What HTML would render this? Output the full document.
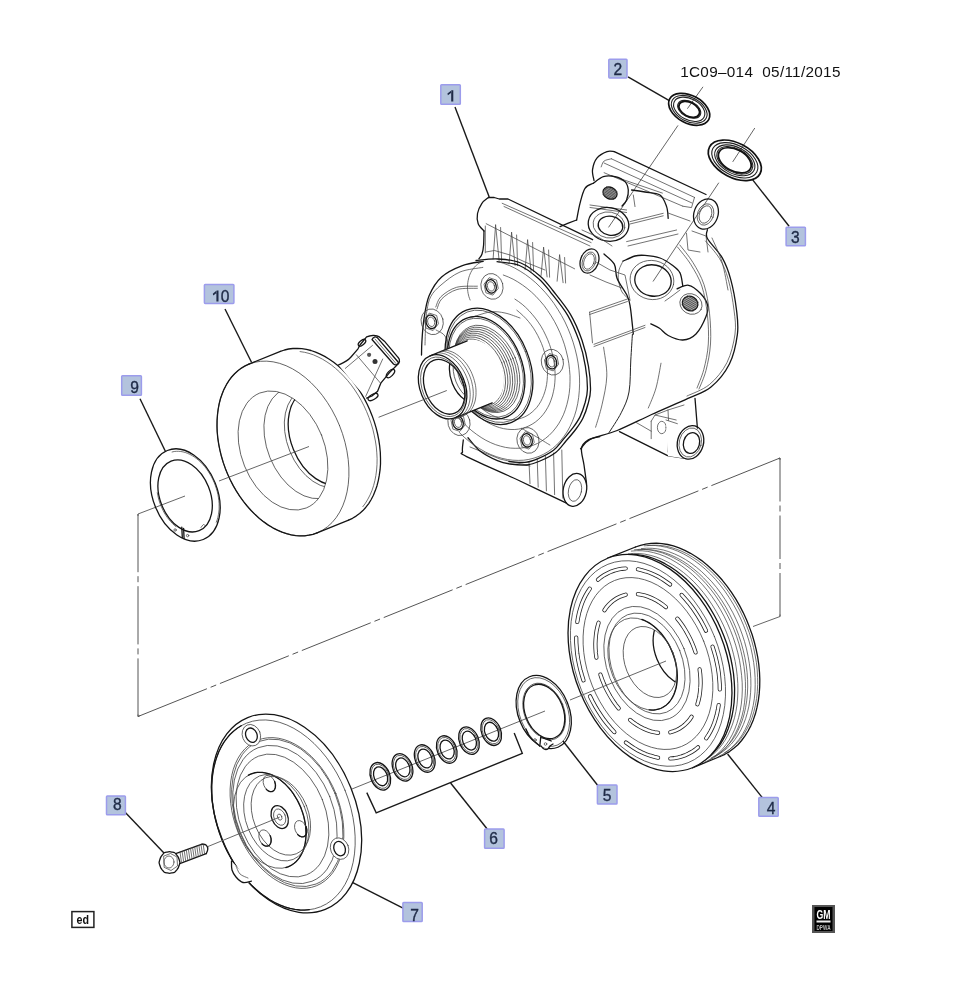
<!DOCTYPE html>
<html><head><meta charset="utf-8"><style>
html,body{margin:0;padding:0;background:#fff;}
svg{display:block;filter:blur(0.45px);}
.k{fill:none;stroke:#151515;stroke-width:1.3;stroke-linejoin:round;stroke-linecap:round;}
.t{fill:none;stroke:#444;stroke-width:0.75;stroke-linejoin:round;stroke-linecap:round;}
.m{fill:none;stroke:#222;stroke-width:1.0;stroke-linecap:round;}
.a{fill:none;stroke:#555;stroke-width:0.9;}
.d{fill:none;stroke:#555;stroke-width:1;}
.l{fill:none;stroke:#1a1a1a;stroke-width:1.4;}
.lb{fill:#b3c3dd;stroke:#9c9cec;stroke-width:1.5;}
.lt{font-family:"Liberation Sans",sans-serif;font-size:15.6px;fill:#1f2b47;stroke:#1f2b47;stroke-width:0.35;text-anchor:middle;}
.w{fill:#fff;stroke:none;}
.wk{fill:none;stroke:#111;stroke-width:1.7;}
.wt{fill:none;stroke:#222;stroke-width:1.1;}
.so{fill:none;stroke:#222;stroke-width:4.2;stroke-linecap:round;}
.si{fill:none;stroke:#fff;stroke-width:2.6;stroke-linecap:round;}
</style></head><body>
<svg width="961" height="1000" viewBox="0 0 961 1000">
<rect width="961" height="1000" fill="#fff"/>
<defs><clipPath id="cb"><ellipse cx="283" cy="450.5" rx="41.5" ry="62" transform="rotate(-22 283 450.5)"/></clipPath><clipPath id="ph"><ellipse cx="650" cy="662" rx="24.8" ry="37" transform="rotate(-22 650 662)"/></clipPath><clipPath id="sb"><ellipse cx="444.1" cy="386.8" rx="19.1" ry="28.5" transform="rotate(-22 444.1 386.8)"/></clipPath></defs>
<line x1="138" y1="514" x2="138" y2="716.5" class="d" stroke-dasharray="58.2 4 6 4"/>
<line x1="138" y1="716.5" x2="780" y2="458" class="d" stroke-dasharray="74.3 4 6 4"/>
<line x1="780" y1="458" x2="780" y2="616.5" class="d" stroke-dasharray="43.5 4 6 4"/>
<line x1="780" y1="616.5" x2="753" y2="626.5" class="a"/>
<path d="M138 514 L138 516 M138 714.5 L138 716.5 L140 715.7 M778 458.8 L780 458 L780 460 M780 614.5 L780 616.5" class="a"/>
<line x1="138" y1="514" x2="185" y2="496" class="a"/>
<line x1="352" y1="789" x2="545" y2="711" class="a"/>
<line x1="687.4" y1="108.7" x2="703" y2="86.8" class="a"/>
<line x1="608.5" y1="227.4" x2="678" y2="125.4" class="a"/>
<line x1="732.7" y1="161.9" x2="754.8" y2="128" class="a"/>
<line x1="653" y1="281.5" x2="718.8" y2="182.7" class="a"/>
<line x1="455" y1="106.9" x2="489.2" y2="197" class="l"/>
<line x1="628" y1="76.8" x2="669.3" y2="100.6" class="l"/>
<line x1="752.5" y1="179.6" x2="789.1" y2="226.2" class="l"/>
<line x1="727.6" y1="754" x2="764.5" y2="800.4" class="l"/>
<line x1="563" y1="741" x2="598" y2="785.8" class="l"/>
<line x1="450.6" y1="783" x2="487.2" y2="829" class="l"/>
<line x1="352.3" y1="882.3" x2="405.5" y2="909.3" class="l"/>
<line x1="125.6" y1="812.8" x2="164.2" y2="853.3" class="l"/>
<line x1="140" y1="398.7" x2="165.6" y2="451.8" class="l"/>
<line x1="225" y1="309" x2="251.6" y2="362.5" class="l"/>
<path d="M366.8 792.6 L376.2 812.9 L522.3 753.3 L514.2 733" class="l"/>
<ellipse cx="689.2" cy="109.3" rx="22.1" ry="13.8" transform="rotate(28 689.2 109.3)" class="wk"/>
<ellipse cx="689.2" cy="109.3" rx="19.2" ry="12" transform="rotate(28 689.2 109.3)" class="wt"/>
<ellipse cx="689.2" cy="109.3" rx="16.8" ry="10.5" transform="rotate(28 689.2 109.3)" class="wt"/>
<ellipse cx="689.2" cy="109.3" rx="12.4" ry="7.7" transform="rotate(28 689.2 109.3)" class="wt"/>
<ellipse cx="689.2" cy="109.3" rx="11.1" ry="6.9" transform="rotate(28 689.2 109.3)" class="wk"/>
<ellipse cx="734.8" cy="160.3" rx="28.6" ry="17.2" transform="rotate(28 734.8 160.3)" class="wk"/>
<ellipse cx="734.8" cy="160.3" rx="24.9" ry="15" transform="rotate(28 734.8 160.3)" class="wt"/>
<ellipse cx="734.8" cy="160.3" rx="21.7" ry="13.1" transform="rotate(28 734.8 160.3)" class="wt"/>
<ellipse cx="734.8" cy="160.3" rx="19.4" ry="11.7" transform="rotate(28 734.8 160.3)" class="wt"/>
<ellipse cx="734.8" cy="160.3" rx="17.7" ry="10.7" transform="rotate(28 734.8 160.3)" class="wk"/>
<ellipse cx="185.3" cy="495" rx="32.2" ry="48" transform="rotate(-22 185.3 495)" class="k"/>
<path d="M172.1 452 L174.2 451.5 L176.4 451.3 L178.6 451.3 L180.8 451.5 L183 451.9 L185.3 452.5 L187.6 453.4 L189.9 454.4 L192.1 455.6 L194.3 457 L196.5 458.6 L198.7 460.4 L200.8 462.3 L202.8 464.4 L204.7 466.6 L206.6 469 L208.3 471.5 L209.9 474.1 L211.5 476.8 L212.9 479.6 L214.2 482.5 L215.3 485.4 L216.3 488.4 L217.2 491.4 L217.9 494.4 L218.4 497.4 L218.8 500.4 L219.1 503.4 L219.1 506.3 L219.1 509.2 L218.8 512 L218.4 514.7 L217.9 517.3 L217.2 519.8 L216.3 522.2" class="t"/>
<ellipse cx="185.1" cy="495.9" rx="25.1" ry="37.5" transform="rotate(-22 185.1 495.9)" class="k"/>
<path d="M175.9 526.6 L174.1 525.1 L172.3 523.4 L170.6 521.5 L168.9 519.5 L167.3 517.5 L165.8 515.3 L164.4 513 L163.1 510.6 L162 508.2 L160.9 505.7 L159.9 503.1 L159.1 500.6 L158.4 498 L157.8 495.3 L157.3 492.7" class="t"/>
<line x1="181.8" y1="527.2" x2="182.3" y2="537.6" class="k"/>
<line x1="183.6" y1="528.4" x2="184.1" y2="538.8" class="k"/>
<circle cx="175.1" cy="530" r="1.2" class="t"/>
<circle cx="187.6" cy="535.6" r="1.2" class="t"/>
<path d="M201 527.5 C201.4 527 202.8 524.8 203.5 524.5 C204.2 524.2 205.2 525.8 205.5 526" class="t"/>
<path d="M248.9 364.1 L280.4 351.4 L348.6 520.1 L317.1 532.9 Z" class="w"/>
<ellipse cx="314.5" cy="435.8" rx="61" ry="91" transform="rotate(-22 314.5 435.8)" class="w"/>
<ellipse cx="283" cy="448.5" rx="61" ry="91" transform="rotate(-22 283 448.5)" class="w"/>
<ellipse cx="283" cy="448.5" rx="61" ry="91" transform="rotate(-22 283 448.5)" class="t"/>
<path d="M280.4 351.4 L284.5 350 L288.6 349 L292.9 348.5 L297.3 348.4 L301.8 348.7 L306.4 349.4 L311 350.5 L315.6 352.1 L320.2 354.1 L324.7 356.4 L329.3 359.2 L333.7 362.3 L338.1 365.8 L342.3 369.6 L346.4 373.8 L350.4 378.2 L354.2 383 L357.8 388 L361.1 393.2 L364.3 398.6 L367.2 404.2 L369.8 410 L372.2 415.9 L374.3 421.9 L376.1 427.9 L377.6 434 L378.8 440.1 L379.7 446.2 L380.3 452.2 L380.5 458.2 L380.5 464 L380.1 469.7 L379.3 475.2 L378.3 480.6 L377 485.7 L375.3 490.6 L373.4 495.2 L371.2 499.5 L368.7 503.6 L365.9 507.2 L362.9 510.6 L359.6 513.5 L356.1 516.1 L352.5 518.3 L348.6 520.1" class="k"/>
<path d="M317.1 532.9 L313.1 534.3 L308.9 535.2 L304.6 535.8 L300.2 535.9 L295.7 535.6 L291.1 534.9 L286.6 533.7 L282 532.2 L277.4 530.2 L272.8 527.8 L268.3 525.1 L263.8 521.9 L259.4 518.4 L255.2 514.6 L251.1 510.5 L247.1 506 L243.4 501.3 L239.8 496.3 L236.4 491.1 L233.2 485.6 L230.3 480 L227.7 474.3 L225.3 468.4 L223.2 462.4 L221.4 456.3 L219.9 450.2 L218.7 444.1 L217.8 438.1 L217.2 432 L217 426.1 L217.1 420.3 L217.5 414.6 L218.2 409 L219.2 403.7 L220.5 398.5 L222.2 393.7 L224.1 389.1 L226.4 384.7 L228.9 380.7 L231.6 377 L234.6 373.7 L237.9 370.7 L241.4 368.1 L245.1 365.9 L248.9 364.1" class="k"/>
<line x1="248.9" y1="364.1" x2="280.4" y2="351.4" class="k"/>
<line x1="317.1" y1="532.9" x2="348.6" y2="520.1" class="k"/>
<path d="M300.1 351.6 L304.6 352.3 L309 353.4 L313.5 354.9 L318 356.9 L322.5 359.2 L326.9 361.9 L331.3 364.9 L335.6 368.4 L339.7 372.1 L343.7 376.2 L347.6 380.5 L351.3 385.1 L354.8 390 L358.1 395.1 L361.2 400.4 L364 405.9 L366.6 411.6 L368.9 417.3 L371 423.2 L372.8 429.1 L374.2 435.1 L375.4 441 L376.3 447 L376.8 452.9 L377.1 458.7 L377 464.4 L376.6 470 L375.9 475.4 L374.9 480.6 L373.6 485.6 L372 490.4 L370.1 494.9 L367.9 499.1 L365.5 503.1 L362.8 506.7" class="t"/>
<ellipse cx="283" cy="450.5" rx="41.5" ry="62" transform="rotate(-22 283 450.5)" class="t"/>
<g clip-path="url(#cb)">
<ellipse cx="306" cy="443" rx="38.9" ry="58" transform="rotate(-22 306 443)" class="t"/>
<ellipse cx="322" cy="438" rx="34.8" ry="52" transform="rotate(-22 322 438)" class="t"/>
<ellipse cx="324.5" cy="437" rx="33.5" ry="50" transform="rotate(-22 324.5 437)" class="k"/>
</g>
<path d="M338.5 365 C343 363 347 361.6 351 357 L358 348.8 L360 345 L366.6 336.9 C370 335.5 376 334.5 379.3 336.9 L384.4 341.2 L398 357.3 C400.5 360 400 363.5 396.3 365.8 L389.5 372.6 L381 382.8 L377.6 391.3 L372 396 L366.6 398.1 L355 385 Z" class="w"/>
<path d="M338.5 365 C343 363 347 361.6 351 357 L358 348.8 L360 345 L366.6 336.9 C370 335.5 376 334.5 379.3 336.9 L384.4 341.2 L398 357.3 C400.5 360 400 363.5 396.3 365.8 L389.5 372.6 L381 382.8 L377.6 391.3 L372 396 L366.6 398.1" class="k"/>
<path d="M372 339.5 L393.5 364 Q396.5 366.5 398.5 362.5 L377.5 337.8 Q374 335.5 372 339.5" class="k"/>
<line x1="375" y1="339" x2="396" y2="363.5" class="t"/>
<ellipse cx="390.5" cy="373.5" rx="2.6" ry="5.2" transform="rotate(45 390.5 373.5)" class="k"/>
<ellipse cx="373" cy="397" rx="2.6" ry="5.5" transform="rotate(60 373 397)" class="k"/>
<ellipse cx="362" cy="342.8" rx="2.2" ry="4.5" transform="rotate(50 362 342.8)" class="k"/>
<line x1="345.3" y1="368.4" x2="372.5" y2="345.4" class="t"/>
<line x1="356.4" y1="354.8" x2="380.2" y2="382.8" class="t"/>
<line x1="382.7" y1="359" x2="365.7" y2="396.4" class="t"/>
<circle cx="369.1" cy="354.8" r="2.1" style="fill:#555"/>
<circle cx="375" cy="361.6" r="2.5" style="fill:#333"/>
<path d="M607.7 558.2 L635.5 547 L720.1 756.5 L692.3 767.8 Z" class="w"/>
<ellipse cx="677.8" cy="651.8" rx="75.7" ry="113" transform="rotate(-22 677.8 651.8)" class="w"/>
<path d="M635.5 547 L640.5 545.3 L645.7 544.1 L651 543.4 L656.5 543.2 L662 543.6 L667.7 544.5 L673.4 545.9 L679.1 547.9 L684.8 550.3 L690.5 553.3 L696.1 556.7 L701.7 560.6 L707.1 564.9 L712.3 569.7 L717.4 574.8 L722.4 580.3 L727 586.2 L731.5 592.4 L735.7 598.9 L739.6 605.6 L743.2 612.6 L746.5 619.8 L749.4 627.1 L752.1 634.5 L754.3 642 L756.2 649.6 L757.7 657.2 L758.8 664.7 L759.5 672.2 L759.8 679.6 L759.7 686.8 L759.2 693.9 L758.3 700.8 L757 707.4 L755.4 713.8 L753.3 719.9 L750.9 725.6 L748.1 731 L745 735.9 L741.6 740.5 L737.9 744.7 L733.8 748.3 L729.5 751.6 L724.9 754.3 L720.1 756.5" class="k"/>
<path d="M647.7 545.6 L653.1 545.2 L658.6 545.3 L664.1 545.9 L669.8 547.1 L675.4 548.8 L681.1 551 L686.8 553.7 L692.4 556.9 L697.9 560.5 L703.4 564.6 L708.6 569.2 L713.8 574.1 L718.7 579.5 L723.5 585.1 L728 591.2 L732.3 597.5 L736.3 604.1 L740 610.9 L743.4 618 L746.4 625.2 L749.2 632.5 L751.5 639.9 L753.5 647.4 L755.1 655 L756.4 662.5 L757.2 669.9 L757.6 677.3 L757.7 684.5 L757.3 691.6 L756.6 698.5 L755.4 705.2 L753.9 711.6 L752 717.7 L749.7 723.5 L747 728.9 L744 734 L740.7 738.6 L737.1 742.9 L733.1 746.7 L728.9 750 L724.5 752.8" class="t"/>
<line x1="607.7" y1="558.2" x2="635.5" y2="547" class="k"/>
<line x1="692.3" y1="767.8" x2="720.1" y2="756.5" class="k"/>
<path d="M628.4 553.8 L633.8 553.4 L639.2 553.5 L644.7 554.1 L650.3 555.3 L655.9 556.9 L661.5 559.1 L667.1 561.8 L672.7 564.9 L678.1 568.5 L683.5 572.5 L688.8 577 L693.9 581.8 L698.8 587.1 L703.5 592.7 L708 598.6 L712.2 604.9 L716.2 611.4 L719.9 618.1 L723.3 625 L726.4 632.1 L729.1 639.4 L731.5 646.7 L733.5 654.2 L735.2 661.6 L736.4 669 L737.3 676.4 L737.8 683.7 L737.9 690.9 L737.6 698 L737 704.8 L735.9 711.5 L734.5 717.8 L732.6 724 L730.4 729.7 L727.9 735.2 L725 740.3 L721.8 745 L718.3 749.3 L714.4 753.1 L710.3 756.5 L706 759.4 L701.4 761.9" class="t"/>
<path d="M631.3 551.1 L636.7 550.7 L642.2 550.8 L647.8 551.4 L653.4 552.6 L659.1 554.2 L664.8 556.4 L670.5 559.1 L676.1 562.3 L681.7 565.9 L687.1 570 L692.4 574.5 L697.6 579.5 L702.6 584.8 L707.4 590.5 L711.9 596.5 L716.2 602.8 L720.3 609.4 L724 616.2 L727.4 623.2 L730.5 630.5 L733.3 637.8 L735.7 645.2 L737.8 652.8 L739.5 660.3 L740.7 667.8 L741.6 675.3 L742.2 682.7 L742.3 690 L742 697.2 L741.3 704.1 L740.2 710.8 L738.7 717.3 L736.9 723.5 L734.7 729.4 L732.1 734.9 L729.2 740.1 L725.9 744.8 L722.3 749.2 L718.5 753.1 L714.3 756.5 L709.9 759.5 L705.2 762" class="t"/>
<path d="M634.5 549.8 L639.9 549.3 L645.4 549.5 L651 550.1 L656.7 551.3 L662.4 552.9 L668 555.1 L673.7 557.8 L679.4 561 L684.9 564.6 L690.4 568.7 L695.7 573.2 L700.8 578.2 L705.8 583.5 L710.6 589.2 L715.2 595.2 L719.5 601.5 L723.5 608.1 L727.2 614.9 L730.7 621.9 L733.8 629.1 L736.6 636.5 L739 643.9 L741 651.4 L742.7 659 L744 666.5 L744.9 674 L745.4 681.4 L745.5 688.7 L745.2 695.8 L744.5 702.8 L743.5 709.5 L742 716 L740.1 722.2 L737.9 728.1 L735.3 733.6 L732.4 738.8 L729.2 743.5 L725.6 747.9 L721.7 751.8 L717.5 755.2 L713.1 758.2 L708.5 760.6" class="t"/>
<path d="M638.2 549.9 L643.5 549.5 L648.9 549.6 L654.4 550.2 L660 551.4 L665.6 553 L671.2 555.2 L676.8 557.8 L682.4 560.9 L687.9 564.5 L693.2 568.6 L698.5 573 L703.6 577.9 L708.5 583.2 L713.2 588.8 L717.7 594.7 L722 600.9 L726 607.4 L729.6 614.2 L733 621.1 L736.1 628.2 L738.8 635.5 L741.2 642.8 L743.2 650.2 L744.9 657.7 L746.2 665.1 L747.1 672.5 L747.6 679.8 L747.7 687 L747.4 694 L746.7 700.9 L745.6 707.5 L744.2 713.9 L742.4 720 L740.2 725.8 L737.6 731.3 L734.8 736.4 L731.5 741.1 L728 745.3 L724.2 749.2 L720.1 752.6 L715.7 755.5 L711.1 758" class="t"/>
<path d="M641.4 548.6 L646.7 548.2 L652.2 548.3 L657.7 548.9 L663.3 550 L668.9 551.7 L674.5 553.9 L680.1 556.5 L685.6 559.6 L691.1 563.2 L696.5 567.3 L701.7 571.7 L706.8 576.6 L711.8 581.8 L716.5 587.4 L721 593.4 L725.2 599.6 L729.2 606.1 L732.9 612.8 L736.3 619.8 L739.4 626.9 L742.1 634.1 L744.5 641.5 L746.5 648.9 L748.1 656.3 L749.4 663.8 L750.3 671.2 L750.8 678.5 L750.9 685.7 L750.6 692.7 L749.9 699.6 L748.9 706.2 L747.4 712.6 L745.6 718.7 L743.4 724.5 L740.9 730 L738 735 L734.8 739.7 L731.3 744 L727.4 747.9 L723.3 751.3 L719 754.2 L714.4 756.6" class="t"/>
<path d="M644.3 545.8 L649.7 545.4 L655.2 545.5 L660.7 546.2 L666.4 547.3 L672.1 549 L677.8 551.2 L683.5 553.9 L689.1 557 L694.6 560.7 L700.1 564.8 L705.4 569.3 L710.6 574.2 L715.6 579.5 L720.3 585.2 L724.9 591.2 L729.2 597.6 L733.2 604.1 L737 611 L740.4 618 L743.5 625.2 L746.3 632.6 L748.7 640 L750.8 647.5 L752.4 655.1 L753.7 662.6 L754.6 670.1 L755.1 677.5 L755.2 684.8 L755 691.9 L754.3 698.9 L753.2 705.6 L751.7 712.1 L749.9 718.3 L747.7 724.1 L745.1 729.7 L742.2 734.8 L738.9 739.6 L735.3 743.9 L731.4 747.8 L727.3 751.3 L722.9 754.2 L718.2 756.7" class="t"/>
<path d="M631.3 554.4 L636.8 554.6 L642.4 555.4 L648 556.7 L653.7 558.5 L659.4 560.8 L665 563.7 L670.6 567 L676.1 570.7 L681.5 574.9 L686.8 579.6 L691.9 584.6 L696.8 590 L701.5 595.8 L706 601.9 L710.2 608.3 L714.1 615 L717.7 621.8 L721 628.9 L724 636.2 L726.7 643.5 L728.9 651 L730.8 658.5 L732.3 666 L733.5 673.5 L734.2 681 L734.6 688.3 L734.5 695.5 L734.1 702.5 L733.2 709.4 L732 716 L730.3 722.3 L728.3 728.4 L726 734.1 L723.2 739.4 L720.2 744.4 L716.8 748.9 L713 753.1 L709 756.7 L704.8 759.9 L700.2 762.7 L695.5 764.9" class="k"/>
<ellipse cx="650" cy="663" rx="75.7" ry="113" transform="rotate(-22 650 663)" class="w"/>
<ellipse cx="650" cy="663" rx="75.7" ry="113" transform="rotate(-22 650 663)" class="k"/>
<ellipse cx="648" cy="663.5" rx="71.7" ry="107" transform="rotate(-22 648 663.5)" class="t"/>
<ellipse cx="648" cy="663.5" rx="60" ry="89.5" transform="rotate(-22 648 663.5)" class="t"/>
<ellipse cx="647" cy="663.5" rx="39.9" ry="59.5" transform="rotate(-22 647 663.5)" class="t"/>
<ellipse cx="647" cy="663.5" rx="35.2" ry="52.5" transform="rotate(-22 647 663.5)" class="t"/>
<path d="M712.5 646.7 L714.2 652.1 L715.7 657.5 L716.9 662.8 L718 668.2 L718.8 673.6 L719.3 679 L719.7 684.2 L719.8 689.5" class="so"/>
<path d="M712.5 646.7 L714.2 652.1 L715.7 657.5 L716.9 662.8 L718 668.2 L718.8 673.6 L719.3 679 L719.7 684.2 L719.8 689.5" class="si"/>
<path d="M718.7 705 L717.9 709.8 L716.9 714.4 L715.6 718.9 L714.2 723.2 L712.5 727.3 L710.6 731.2 L708.5 734.8 L706.2 738.3" class="so"/>
<path d="M718.7 705 L717.9 709.8 L716.9 714.4 L715.6 718.9 L714.2 723.2 L712.5 727.3 L710.6 731.2 L708.5 734.8 L706.2 738.3" class="si"/>
<path d="M698 747.3 L695 749.8 L691.8 751.9 L688.5 753.7 L685.1 755.3 L681.5 756.6 L677.9 757.5 L674.1 758.2 L670.3 758.5" class="so"/>
<path d="M698 747.3 L695 749.8 L691.8 751.9 L688.5 753.7 L685.1 755.3 L681.5 756.6 L677.9 757.5 L674.1 758.2 L670.3 758.5" class="si"/>
<path d="M658.1 757.7 L654.1 756.8 L650 755.6 L645.9 754.1 L641.9 752.4 L637.8 750.3 L633.8 748 L629.8 745.3 L625.9 742.5" class="so"/>
<path d="M658.1 757.7 L654.1 756.8 L650 755.6 L645.9 754.1 L641.9 752.4 L637.8 750.3 L633.8 748 L629.8 745.3 L625.9 742.5" class="si"/>
<path d="M614.4 732.1 L610.8 728.2 L607.4 724.2 L604.1 719.9 L601 715.5 L598 710.9 L595.1 706.1 L592.5 701.3 L590 696.3" class="so"/>
<path d="M614.4 732.1 L610.8 728.2 L607.4 724.2 L604.1 719.9 L601 715.5 L598 710.9 L595.1 706.1 L592.5 701.3 L590 696.3" class="si"/>
<path d="M583.5 680.3 L581.8 674.9 L580.3 669.5 L579.1 664.2 L578 658.8 L577.2 653.4 L576.7 648 L576.3 642.8 L576.2 637.5" class="so"/>
<path d="M583.5 680.3 L581.8 674.9 L580.3 669.5 L579.1 664.2 L578 658.8 L577.2 653.4 L576.7 648 L576.3 642.8 L576.2 637.5" class="si"/>
<path d="M577.3 622 L578.1 617.2 L579.1 612.6 L580.4 608.1 L581.8 603.8 L583.5 599.7 L585.4 595.8 L587.5 592.2 L589.8 588.7" class="so"/>
<path d="M577.3 622 L578.1 617.2 L579.1 612.6 L580.4 608.1 L581.8 603.8 L583.5 599.7 L585.4 595.8 L587.5 592.2 L589.8 588.7" class="si"/>
<path d="M598 579.7 L601 577.2 L604.2 575.1 L607.5 573.3 L610.9 571.7 L614.5 570.4 L618.1 569.5 L621.9 568.8 L625.7 568.5" class="so"/>
<path d="M598 579.7 L601 577.2 L604.2 575.1 L607.5 573.3 L610.9 571.7 L614.5 570.4 L618.1 569.5 L621.9 568.8 L625.7 568.5" class="si"/>
<path d="M637.9 569.3 L641.9 570.2 L646 571.4 L650.1 572.9 L654.1 574.6 L658.2 576.7 L662.2 579 L666.2 581.7 L670.1 584.5" class="so"/>
<path d="M637.9 569.3 L641.9 570.2 L646 571.4 L650.1 572.9 L654.1 574.6 L658.2 576.7 L662.2 579 L666.2 581.7 L670.1 584.5" class="si"/>
<path d="M681.6 594.9 L685.2 598.8 L688.6 602.8 L691.9 607.1 L695 611.5 L698 616.1 L700.9 620.9 L703.5 625.7 L706 630.7" class="so"/>
<path d="M681.6 594.9 L685.2 598.8 L688.6 602.8 L691.9 607.1 L695 611.5 L698 616.1 L700.9 620.9 L703.5 625.7 L706 630.7" class="si"/>
<path d="M699.6 669.4 L700.2 674.1 L700.5 678.7 L700.6 683.3 L700.4 687.7 L700 692.1 L699.4 696.3 L698.5 700.4 L697.4 704.3" class="so"/>
<path d="M699.6 669.4 L700.2 674.1 L700.5 678.7 L700.6 683.3 L700.4 687.7 L700 692.1 L699.4 696.3 L698.5 700.4 L697.4 704.3" class="si"/>
<path d="M691.6 716.7 L689.6 719.6 L687.3 722.3 L684.8 724.7 L682.2 726.8 L679.4 728.6 L676.5 730.1 L673.5 731.3 L670.3 732.3" class="so"/>
<path d="M691.6 716.7 L689.6 719.6 L687.3 722.3 L684.8 724.7 L682.2 726.8 L679.4 728.6 L676.5 730.1 L673.5 731.3 L670.3 732.3" class="si"/>
<path d="M658.1 732.9 L654.6 732.3 L651.1 731.5 L647.5 730.3 L644 728.8 L640.4 727 L636.9 724.9 L633.5 722.6 L630.1 719.9" class="so"/>
<path d="M658.1 732.9 L654.6 732.3 L651.1 731.5 L647.5 730.3 L644 728.8 L640.4 727 L636.9 724.9 L633.5 722.6 L630.1 719.9" class="si"/>
<path d="M618.7 708.4 L615.8 704.7 L613 700.8 L610.5 696.8 L608.1 692.5 L605.8 688.2 L603.8 683.7 L602 679.2 L600.4 674.6" class="so"/>
<path d="M618.7 708.4 L615.8 704.7 L613 700.8 L610.5 696.8 L608.1 692.5 L605.8 688.2 L603.8 683.7 L602 679.2 L600.4 674.6" class="si"/>
<path d="M596.4 657.6 L595.8 652.9 L595.5 648.3 L595.4 643.7 L595.6 639.3 L596 634.9 L596.6 630.7 L597.5 626.6 L598.6 622.7" class="so"/>
<path d="M596.4 657.6 L595.8 652.9 L595.5 648.3 L595.4 643.7 L595.6 639.3 L596 634.9 L596.6 630.7 L597.5 626.6 L598.6 622.7" class="si"/>
<path d="M604.4 610.3 L606.4 607.4 L608.7 604.7 L611.2 602.3 L613.8 600.2 L616.6 598.4 L619.5 596.9 L622.5 595.7 L625.7 594.7" class="so"/>
<path d="M604.4 610.3 L606.4 607.4 L608.7 604.7 L611.2 602.3 L613.8 600.2 L616.6 598.4 L619.5 596.9 L622.5 595.7 L625.7 594.7" class="si"/>
<path d="M637.9 594.1 L641.4 594.7 L644.9 595.5 L648.5 596.7 L652 598.2 L655.6 600 L659.1 602.1 L662.5 604.4 L665.9 607.1" class="so"/>
<path d="M637.9 594.1 L641.4 594.7 L644.9 595.5 L648.5 596.7 L652 598.2 L655.6 600 L659.1 602.1 L662.5 604.4 L665.9 607.1" class="si"/>
<path d="M677.3 618.6 L680.2 622.3 L683 626.2 L685.5 630.2 L687.9 634.5 L690.2 638.8 L692.2 643.3 L694 647.8 L695.6 652.4" class="so"/>
<path d="M677.3 618.6 L680.2 622.3 L683 626.2 L685.5 630.2 L687.9 634.5 L690.2 638.8 L692.2 643.3 L694 647.8 L695.6 652.4" class="si"/>
<ellipse cx="642.5" cy="664" rx="32" ry="48" transform="rotate(-22 642.5 664)" class="t"/>
<path d="M641.8 619.4 L644.3 620.4 L646.7 621.5 L649.2 622.9 L651.6 624.5 L653.9 626.3 L656.2 628.2 L658.4 630.4 L660.6 632.7 L662.6 635.2 L664.6 637.8 L666.4 640.5 L668.2 643.4 L669.8 646.3 L671.2 649.4 L672.5 652.5 L673.7 655.7 L674.7 658.9 L675.6 662.2 L676.3 665.4 L676.8 668.7 L677.1 671.9 L677.3 675.1 L677.3 678.2 L677.1 681.3 L676.8 684.2 L676.3 687.1 L675.6 689.9 L674.7 692.5 L673.7 695 L672.6 697.3 L671.2 699.5 L669.8 701.5 L668.2 703.3 L666.5 704.9 L664.6 706.3 L662.7 707.5 L660.6 708.5 L658.5 709.2 L656.2 709.7 L653.9 710 L651.6 710.1 L649.2 709.9" class="k"/>
<ellipse cx="650" cy="662" rx="24.8" ry="37" transform="rotate(-22 650 662)" class="t"/>
<g clip-path="url(#ph)">
<ellipse cx="680" cy="650" rx="24.8" ry="37" transform="rotate(-22 680 650)" class="k"/>
</g>
<ellipse cx="543.7" cy="712" rx="25.5" ry="38" transform="rotate(-22 543.7 712)" class="k"/>
<ellipse cx="543.7" cy="712" rx="24" ry="35.8" transform="rotate(-22 543.7 712)" class="t"/>
<ellipse cx="544.2" cy="711.5" rx="19.8" ry="29.5" transform="rotate(-22 544.2 711.5)" class="t"/>
<ellipse cx="544.2" cy="711.5" rx="19" ry="28.3" transform="rotate(-22 544.2 711.5)" class="k"/>
<path d="M527.8 733 L540.8 736.6 L542.4 738.2 L551.2 744.5 L547.6 749.1 L539.8 746 Z" class="w"/>
<path d="M526 729 C526.4 729.9 527.3 732.7 528.5 734.5 C529.7 736.3 531.1 738.1 533 740 C534.9 741.9 538.7 745 539.8 746" class="k"/>
<line x1="540.8" y1="736.6" x2="539.8" y2="746" class="k"/>
<path d="M540.8 737.5 C541.7 737.8 544.3 738.4 546 739 C547.7 739.6 550.3 740.7 551.2 741" class="k"/>
<path d="M541 746 C541.5 746.5 542.9 748.5 544 749 C545.1 749.5 546.6 749.6 547.6 749.1 C548.6 748.6 549.1 746.9 550 746 C550.9 745.1 552.5 744.3 553 744" class="k"/>
<circle cx="535" cy="740" r="1.3" class="t"/>
<circle cx="545.5" cy="744" r="1.3" class="t"/>
<ellipse cx="380.3" cy="776.3" rx="9.6" ry="14.3" transform="rotate(-22 380.3 776.3)" class="k"/>
<ellipse cx="380.3" cy="776.3" rx="8.4" ry="12.6" transform="rotate(-22 380.3 776.3)" class="t"/>
<ellipse cx="380.6" cy="776.3" rx="6.6" ry="9.8" transform="rotate(-22 380.6 776.3)" class="k"/>
<ellipse cx="402.5" cy="767.4" rx="9.6" ry="14.3" transform="rotate(-22 402.5 767.4)" class="k"/>
<ellipse cx="402.5" cy="767.4" rx="8.4" ry="12.6" transform="rotate(-22 402.5 767.4)" class="t"/>
<ellipse cx="402.8" cy="767.4" rx="6.6" ry="9.8" transform="rotate(-22 402.8 767.4)" class="k"/>
<ellipse cx="424.7" cy="758.5" rx="9.6" ry="14.3" transform="rotate(-22 424.7 758.5)" class="k"/>
<ellipse cx="424.7" cy="758.5" rx="8.4" ry="12.6" transform="rotate(-22 424.7 758.5)" class="t"/>
<ellipse cx="425" cy="758.5" rx="6.6" ry="9.8" transform="rotate(-22 425 758.5)" class="k"/>
<ellipse cx="446.8" cy="749.5" rx="9.6" ry="14.3" transform="rotate(-22 446.8 749.5)" class="k"/>
<ellipse cx="446.8" cy="749.5" rx="8.4" ry="12.6" transform="rotate(-22 446.8 749.5)" class="t"/>
<ellipse cx="447.1" cy="749.5" rx="6.6" ry="9.8" transform="rotate(-22 447.1 749.5)" class="k"/>
<ellipse cx="469" cy="740.6" rx="9.6" ry="14.3" transform="rotate(-22 469 740.6)" class="k"/>
<ellipse cx="469" cy="740.6" rx="8.4" ry="12.6" transform="rotate(-22 469 740.6)" class="t"/>
<ellipse cx="469.3" cy="740.6" rx="6.6" ry="9.8" transform="rotate(-22 469.3 740.6)" class="k"/>
<ellipse cx="491.2" cy="731.7" rx="9.6" ry="14.3" transform="rotate(-22 491.2 731.7)" class="k"/>
<ellipse cx="491.2" cy="731.7" rx="8.4" ry="12.6" transform="rotate(-22 491.2 731.7)" class="t"/>
<ellipse cx="491.5" cy="731.7" rx="6.6" ry="9.8" transform="rotate(-22 491.5 731.7)" class="k"/>
<ellipse cx="286.5" cy="813.5" rx="69.3" ry="103.5" transform="rotate(-22 286.5 813.5)" class="w"/>
<ellipse cx="286.5" cy="813.5" rx="69.3" ry="103.5" transform="rotate(-22 286.5 813.5)" class="k"/>
<ellipse cx="283.5" cy="815" rx="66.3" ry="99" transform="rotate(-22 283.5 815)" class="t"/>
<path d="M309.3 909.7 L304.6 910.1 L299.7 910 L294.8 909.4 L289.8 908.4 L284.7 906.9 L279.7 904.9 L274.6 902.5 L269.7 899.7 L264.8 896.4 L259.9 892.8 L255.2 888.8 L250.7 884.4 L246.3 879.6 L242.1 874.6 L238 869.2 L234.2 863.6 L230.7 857.8 L227.4 851.7 L224.4 845.5 L221.7 839.1 L219.3 832.5 L217.2 825.9 L215.4 819.3 L214 812.6 L212.9 805.9 L212.1 799.3 L211.7 792.8 L211.7 786.3 L212 780.1 L212.7 773.9 L213.7 768 L215.1 762.3 L216.8 756.9 L218.8 751.8 L221.2 746.9 L223.8 742.4 L226.8 738.3 L230 734.5 L233.5 731.2 L237.2 728.2 L241.2 725.7" class="k"/>
<ellipse cx="287" cy="813" rx="52.6" ry="78.5" transform="rotate(-22 287 813)" class="t"/>
<ellipse cx="287.3" cy="812.8" rx="51.5" ry="76.8" transform="rotate(-22 287.3 812.8)" class="t"/>
<ellipse cx="285" cy="814.5" rx="48.2" ry="72" transform="rotate(-22 285 814.5)" class="t"/>
<ellipse cx="282.5" cy="815.5" rx="42.9" ry="64" transform="rotate(-22 282.5 815.5)" class="t"/>
<ellipse cx="269.8" cy="820.3" rx="33.5" ry="50" transform="rotate(-22 269.8 820.3)" class="t"/>
<path d="M248.4 775.2 L250.6 774.2 L252.8 773.3 L255.1 772.7 L257.4 772.4 L259.9 772.3 L262.4 772.4 L264.9 772.8 L267.4 773.4 L270 774.2 L272.5 775.2 L275.1 776.5 L277.6 778 L280.1 779.8 L282.5 781.7 L284.9 783.8 L287.2 786.1 L289.4 788.5 L291.5 791.1 L293.5 793.9 L295.3 796.8 L297.1 799.8 L298.7 802.9 L300.2 806.1 L301.5 809.4 L302.7 812.7 L303.7 816.1 L304.5 819.5 L305.2 822.9 L305.6 826.2 L305.9 829.6 L306.1 832.9 L306 836.1 L305.8 839.3 L305.4 842.3 L304.8 845.3 L304 848.1 L303.1 850.8 L302 853.3 L300.7 855.7 L299.3 857.9 L297.7 859.9 L296 861.7 L294.2 863.3 L292.2 864.7 L290.2 865.9 L288 866.9 L285.8 867.6" class="k"/>
<ellipse cx="276.3" cy="817.7" rx="30.2" ry="45" transform="rotate(-22 276.3 817.7)" class="t"/>
<ellipse cx="280.9" cy="815.8" rx="27.5" ry="41" transform="rotate(-22 280.9 815.8)" class="t"/>
<ellipse cx="279.7" cy="817.1" rx="8" ry="12" transform="rotate(-22 279.7 817.1)" class="k"/>
<ellipse cx="279.7" cy="817.1" rx="5.7" ry="8.5" transform="rotate(-22 279.7 817.1)" class="t"/>
<ellipse cx="279.7" cy="817.1" rx="2.1" ry="3.2" transform="rotate(-22 279.7 817.1)" class="t"/>
<ellipse cx="269.3" cy="783.5" rx="5.7" ry="8.5" transform="rotate(-22 269.3 783.5)" class="t"/>
<path d="M274.6 781.4 L274.8 781.9 L275 782.5 L275.1 783.1 L275.3 783.7 L275.4 784.2 L275.4 784.8 L275.5 785.4 L275.5 785.9 L275.4 786.5 L275.4 787 L275.3 787.5 L275.2 788 L275 788.5 L274.9 788.9 L274.7 789.3 L274.4 789.7 L274.2 790.1 L273.9 790.4 L273.6 790.7 L273.3 791 L272.9 791.2 L272.6 791.4 L272.2 791.5 L271.8 791.6 L271.4 791.6 L271 791.7 L270.5 791.6 L270.1 791.6 L269.7 791.5 L269.2 791.3 L268.8 791.1 L268.4 790.9 L267.9 790.7 L267.5 790.4 L267.1 790 L266.7 789.7 L266.3 789.3" class="k"/>
<ellipse cx="265" cy="838" rx="5.7" ry="8.5" transform="rotate(-22 265 838)" class="t"/>
<path d="M270.3 835.9 L270.5 836.4 L270.7 837 L270.8 837.6 L271 838.2 L271.1 838.7 L271.1 839.3 L271.2 839.9 L271.2 840.4 L271.1 841 L271.1 841.5 L271 842 L270.9 842.5 L270.7 843 L270.6 843.4 L270.4 843.8 L270.1 844.2 L269.9 844.6 L269.6 844.9 L269.3 845.2 L269 845.5 L268.6 845.7 L268.3 845.9 L267.9 846 L267.5 846.1 L267.1 846.1 L266.7 846.2 L266.2 846.1 L265.8 846.1 L265.4 846 L264.9 845.8 L264.5 845.6 L264.1 845.4 L263.6 845.2 L263.2 844.9 L262.8 844.5 L262.4 844.2 L262 843.8" class="k"/>
<ellipse cx="300.7" cy="828.7" rx="5.7" ry="8.5" transform="rotate(-22 300.7 828.7)" class="t"/>
<path d="M306 826.6 L306.2 827.1 L306.4 827.7 L306.5 828.3 L306.7 828.9 L306.8 829.4 L306.8 830 L306.9 830.6 L306.9 831.1 L306.8 831.7 L306.8 832.2 L306.7 832.7 L306.6 833.2 L306.4 833.7 L306.3 834.1 L306.1 834.5 L305.8 834.9 L305.6 835.3 L305.3 835.6 L305 835.9 L304.7 836.2 L304.3 836.4 L304 836.6 L303.6 836.7 L303.2 836.8 L302.8 836.8 L302.4 836.9 L301.9 836.8 L301.5 836.8 L301.1 836.7 L300.6 836.5 L300.2 836.3 L299.8 836.1 L299.3 835.9 L298.9 835.6 L298.5 835.2 L298.1 834.9 L297.7 834.5" class="k"/>
<ellipse cx="251.4" cy="735.2" rx="9" ry="11" transform="rotate(-22 251.4 735.2)" class="w"/>
<ellipse cx="251.4" cy="735.2" rx="9" ry="11" transform="rotate(-22 251.4 735.2)" class="t"/>
<ellipse cx="251.4" cy="735.2" rx="5.6" ry="7.4" transform="rotate(-22 251.4 735.2)" class="k"/>
<ellipse cx="339.6" cy="848.6" rx="9" ry="11" transform="rotate(-22 339.6 848.6)" class="w"/>
<ellipse cx="339.6" cy="848.6" rx="9" ry="11" transform="rotate(-22 339.6 848.6)" class="t"/>
<ellipse cx="339.6" cy="848.6" rx="5.6" ry="7.4" transform="rotate(-22 339.6 848.6)" class="k"/>
<path d="M231.5 861.2 C230 868 233 876 238 880 C242 883 247 884 251.4 881.2 Z" class="w"/>
<path d="M231.5 861.2 C231.6 862.7 231.2 867.4 232 870 C232.8 872.6 234.2 874.9 236 877 C237.8 879.1 240.4 881.8 243 882.5 C245.6 883.2 250 881.4 251.4 881.2" class="k"/>
<path d="M236 866 C236.7 867.3 238 872 240 874 C242 876 246.7 877.3 248 878" class="t"/>
<line x1="208" y1="846.5" x2="279.7" y2="817.1" class="a"/>
<path d="M175.7 853.7 L202.1 844.2 Q208 845 207.5 850 Q207 853 206.2 853.7 L179.1 863.8 Z" class="w"/>
<line x1="175.7" y1="853.7" x2="202.1" y2="844.2" class="k"/>
<line x1="179.1" y1="863.8" x2="206.2" y2="853.7" class="k"/>
<path d="M202.1 844.2 C202.8 844.3 205.1 844.2 206 845 C206.9 845.8 207.8 847.5 207.8 849 C207.8 850.5 206.5 852.9 206.2 853.7" class="k"/>
<line x1="180" y1="852.2" x2="181.5" y2="862.2" class="t"/>
<line x1="182.1" y1="851.4" x2="183.6" y2="861.4" class="t"/>
<line x1="184.2" y1="850.7" x2="185.7" y2="860.7" class="t"/>
<line x1="186.3" y1="849.9" x2="187.8" y2="859.9" class="t"/>
<line x1="188.4" y1="849.2" x2="189.9" y2="859.2" class="t"/>
<line x1="190.5" y1="848.4" x2="192" y2="858.4" class="t"/>
<line x1="192.6" y1="847.6" x2="194.1" y2="857.6" class="t"/>
<line x1="194.7" y1="846.9" x2="196.2" y2="856.9" class="t"/>
<line x1="196.8" y1="846.1" x2="198.3" y2="856.1" class="t"/>
<line x1="198.9" y1="845.4" x2="200.4" y2="855.4" class="t"/>
<line x1="201" y1="844.6" x2="202.5" y2="854.6" class="t"/>
<line x1="203.1" y1="843.8" x2="204.6" y2="853.8" class="t"/>
<ellipse cx="169.5" cy="862.5" rx="10" ry="10.8" class="w"/>
<path d="M179.9 862.5 C179.9 863.4 179.4 864.4 179.2 865.3 C178.9 866.2 178.6 867.1 178.2 867.9 C177.7 868.7 177.1 869.4 176.6 870.1 C176 870.9 175.4 871.8 174.7 872.2 C174 872.7 173 872.8 172.1 872.9 C171.2 873.1 170.4 873.3 169.5 873.3 C168.6 873.3 167.8 873.1 166.9 872.9 C166 872.8 165 872.7 164.3 872.2 C163.6 871.8 163 870.9 162.4 870.1 C161.9 869.4 161.3 868.7 160.8 867.9 C160.4 867.1 160.1 866.2 159.8 865.3 C159.6 864.4 159.1 863.4 159.1 862.5 C159.1 861.6 159.6 860.6 159.8 859.7 C160.1 858.8 160.4 857.9 160.8 857.1 C161.3 856.3 161.9 855.6 162.4 854.9 C163 854.1 163.6 853.2 164.3 852.8 C165 852.3 166 852.2 166.9 852.1 C167.8 851.9 168.6 851.7 169.5 851.7 C170.4 851.7 171.2 851.9 172.1 852.1 C173 852.2 174 852.3 174.7 852.8 C175.4 853.2 176 854.1 176.6 854.9 C177.1 855.6 177.7 856.3 178.2 857.1 C178.6 857.9 178.9 858.8 179.2 859.7 C179.4 860.6 179.9 861.6 179.9 862.5 Z" class="k"/>
<path d="M164 856 L170.5 853.5 L177 857 L177.5 866 L171 870.5 L164.5 867.5 Z" class="t"/>
<ellipse cx="169" cy="862" rx="5" ry="6" class="t"/>
<rect x="440.8" y="84.8" width="19.5" height="19.5" rx="0.8" class="lb"/>
<path d="M451.2 90.3 L453.3 90.3 L453.3 101.4 L451.2 101.4 Z M451.4 90.4 L447.4 93.6 L447.9 95.3 L451.6 92.6 Z" style="fill:#1f2b47"/>
<rect x="608.8" y="59.2" width="18.2" height="18.7" rx="0.8" class="lb"/>
<text x="617.8" y="75.4" class="lt">2</text>
<rect x="786.1" y="227.3" width="19.3" height="18.5" rx="0.8" class="lb"/>
<text x="795.4" y="242.8" class="lt">3</text>
<rect x="758.8" y="797.5" width="19.4" height="18.8" rx="0.8" class="lb"/>
<text x="771.2" y="813.7" class="lt">4</text>
<rect x="597.4" y="785.1" width="19.6" height="18.9" rx="0.8" class="lb"/>
<text x="607.1" y="800.7" class="lt">5</text>
<rect x="484.6" y="829.1" width="19.5" height="19.1" rx="0.8" class="lb"/>
<text x="493.6" y="843.6" class="lt">6</text>
<rect x="402.9" y="902.5" width="19.3" height="19.1" rx="0.8" class="lb"/>
<text x="414.5" y="920.6" class="lt">7</text>
<rect x="106.5" y="795.9" width="18.9" height="18.9" rx="0.8" class="lb"/>
<text x="117.4" y="809.8" class="lt">8</text>
<rect x="121.7" y="375.8" width="19.7" height="19.4" rx="0.8" class="lb"/>
<text x="134.5" y="392.6" class="lt">9</text>
<rect x="204.4" y="284.4" width="29.5" height="19" rx="0.8" class="lb"/>
<path d="M216.4 290.4 L218.5 290.4 L218.5 301.6 L216.4 301.6 Z M216.6 290.5 L212.8 293.7 L213.3 295.4 L216.8 292.7 Z" style="fill:#1f2b47"/>
<text x="225" y="301.6" class="lt">0</text>
<text x="680.2" y="76.9" style="font-family:Liberation Sans,sans-serif;font-size:15.3px;letter-spacing:0.3px;fill:#111">1C09&#8211;014&#160;&#160;05/11/2015</text>
<rect x="71.9" y="911.6" width="22" height="15.8" fill="none" stroke="#222" stroke-width="1.5"/>
<text x="76.6" y="924" style="font-family:Liberation Sans,sans-serif;font-size:12.5px;font-weight:bold;fill:#111" textLength="12.5" lengthAdjust="spacingAndGlyphs">ed</text>
<rect x="812" y="905" width="23" height="28" fill="#555"/>
<rect x="814.5" y="907" width="18" height="24" fill="#000"/>
<text x="816.5" y="918.6" style="font-family:Liberation Sans,sans-serif;font-size:13px;font-weight:bold;fill:#fff" textLength="14" lengthAdjust="spacingAndGlyphs">GM</text>
<rect x="816.5" y="920.5" width="14" height="2" fill="#eee"/>
<text x="816.5" y="929.6" style="font-family:Liberation Sans,sans-serif;font-size:7px;font-weight:bold;fill:#bbb" textLength="14" lengthAdjust="spacingAndGlyphs">DPWA</text>
<path d="M488.4 197.5 C487.3 198.5 483.7 200.6 481.9 203.3 C480.1 206 478.1 210.1 477.5 213.5 C476.9 216.9 477.1 220.8 478.2 223.7 C479.3 226.6 483 229.8 484 231" class="k"/>
<path d="M488.4 197.5 L494.2 197.5 L499.3 199 L508 199 L592.6 239.7" class="k"/>
<line x1="502.2" y1="203.3" x2="591.1" y2="242.6" class="t"/>
<line x1="504" y1="206.5" x2="590" y2="246" class="t"/>
<line x1="486.2" y1="223.7" x2="574.6" y2="268.8" class="t"/>
<path d="M484 231 C483.9 233.3 483.9 241.2 483.6 245 C483.3 248.8 482.8 251.7 482 254 C481.2 256.3 479.5 257.9 479 258.7" class="k"/>
<line x1="485.3" y1="226" x2="485.3" y2="252.8" class="t"/>
<line x1="495.6" y1="225" x2="493.1" y2="259" class="t"/>
<line x1="495.6" y1="225" x2="499.1" y2="260.5" class="t"/>
<line x1="500.6" y1="227.5" x2="501.6" y2="260.8" class="t"/>
<line x1="511.6" y1="232.5" x2="509.1" y2="263.9" class="t"/>
<line x1="511.6" y1="232.5" x2="515.1" y2="265.4" class="t"/>
<line x1="516.6" y1="235" x2="517.6" y2="265.7" class="t"/>
<line x1="527.6" y1="240" x2="525.1" y2="269.7" class="t"/>
<line x1="527.6" y1="240" x2="531.1" y2="271.2" class="t"/>
<line x1="532.6" y1="242.5" x2="533.6" y2="271.5" class="t"/>
<line x1="543.6" y1="247.5" x2="541.1" y2="275.4" class="t"/>
<line x1="543.6" y1="247.5" x2="547.1" y2="276.9" class="t"/>
<line x1="548.6" y1="250" x2="549.6" y2="277.2" class="t"/>
<line x1="559.6" y1="255" x2="557.1" y2="281.2" class="t"/>
<line x1="559.6" y1="255" x2="563.1" y2="282.7" class="t"/>
<line x1="564.6" y1="257.5" x2="565.6" y2="283" class="t"/>
<path d="M486 252 L494.5 250.5 L510 255 L525 262 L545 270" class="t"/>
<ellipse cx="589.5" cy="261" rx="9" ry="12.5" transform="rotate(20 589.5 261)" class="k"/>
<ellipse cx="589" cy="261.5" rx="5" ry="8" transform="rotate(20 589 261.5)" class="t"/>
<ellipse cx="589" cy="261.5" rx="6.5" ry="9.8" transform="rotate(20 589 261.5)" class="t"/>
<path d="M594 180.5 C593.8 178.7 592 173.5 592.5 169.8 C593 166.1 594.5 161.1 596.9 158.1 C599.3 155.1 604.1 152.7 607 151.6 C609.9 150.5 613.1 151.6 614.3 151.6" class="k"/>
<path d="M614.3 151.6 L706 194.5" class="k"/>
<path d="M601.2 166.9 C601.7 165.9 602.4 162.3 604.1 161 C605.8 159.7 610.2 159.2 611.4 158.8" class="t"/>
<line x1="611.4" y1="158.8" x2="694.5" y2="197.4" class="t"/>
<line x1="604" y1="163" x2="692" y2="203" class="t"/>
<line x1="604.1" y1="172.7" x2="682.8" y2="206.2" class="t"/>
<line x1="611.4" y1="175.6" x2="662.4" y2="193.1" class="t"/>
<path d="M694.5 197.4 L691.5 207.6 L682.8 206.2" class="t"/>
<path d="M631.6 190 C633.8 190.3 640.3 191.2 645 192 C649.7 192.8 656.4 192.6 660 195 C663.6 197.4 665.2 202.7 666.6 206.6 C668 210.5 667.9 216.4 668.2 218.3" class="k"/>
<path d="M668 213 L690 221" class="t"/>
<ellipse cx="706" cy="214" rx="12" ry="15.5" transform="rotate(20 706 214)" class="k"/>
<ellipse cx="705.5" cy="214.5" rx="8" ry="11" transform="rotate(20 705.5 214.5)" class="t"/>
<ellipse cx="705.5" cy="214.5" rx="6" ry="9" transform="rotate(20 705.5 214.5)" class="t"/>
<path d="M593.3 183.3 C595 182.2 599.7 177.7 603.3 176.6 C606.9 175.5 611.4 175.8 615 176.6 C618.6 177.4 622.8 179.4 625 181.6 C627.2 183.8 628 186.9 628.3 190 C628.6 193.1 627.6 197.3 626.6 200 C625.6 202.7 622.8 205 622 206" class="k"/>
<ellipse cx="610" cy="193.1" rx="7.3" ry="5.8" transform="rotate(25 610 193.1)" class="k" style="fill:#a8a8a8"/>
<line x1="604.2" y1="188.8" x2="615.8" y2="188.8" class="t" transform="rotate(25 610 193.1)"/>
<line x1="604.2" y1="190.2" x2="615.8" y2="190.2" class="t" transform="rotate(25 610 193.1)"/>
<line x1="604.2" y1="191.7" x2="615.8" y2="191.7" class="t" transform="rotate(25 610 193.1)"/>
<line x1="604.2" y1="193.1" x2="615.8" y2="193.1" class="t" transform="rotate(25 610 193.1)"/>
<line x1="604.2" y1="194.5" x2="615.8" y2="194.5" class="t" transform="rotate(25 610 193.1)"/>
<line x1="604.2" y1="196" x2="615.8" y2="196" class="t" transform="rotate(25 610 193.1)"/>
<line x1="604.2" y1="197.4" x2="615.8" y2="197.4" class="t" transform="rotate(25 610 193.1)"/>
<path d="M593.3 183.3 C591.9 184.1 587.2 185 585 188.3 C582.8 191.6 581.4 198 580 203.3 C578.6 208.6 577.2 217.2 576.6 220" class="k"/>
<path d="M576.6 220 L568.3 223.2 L560 226.6" class="k"/>
<path d="M590 205 L626.6 210" class="t"/>
<path d="M590 207.5 L626.6 212.5" class="t"/>
<path d="M633.3 195 L635 206.6" class="t"/>
<path d="M630 221.6 L663.2 213.3" class="t"/>
<path d="M630 224 L663.2 215.8" class="t"/>
<path d="M626.6 241.6 L676.6 230" class="t"/>
<path d="M628 246 L678 234" class="t"/>
<path d="M686.5 233.2 L688 250 L700 252" class="t"/>
<path d="M692 231 L706 236 L708 252" class="t"/>
<ellipse cx="608.5" cy="224.4" rx="20.4" ry="16.8" transform="rotate(10 608.5 224.4)" class="k"/>
<ellipse cx="609" cy="225" rx="16" ry="13" transform="rotate(10 609 225)" class="t"/>
<ellipse cx="610.5" cy="225.8" rx="12.4" ry="9.5" transform="rotate(10 610.5 225.8)" class="k"/>
<path d="M623 261.2 C625 260.3 631.3 257 635 256 C638.7 255 640.8 255.1 645 255.4 C649.2 255.7 655.5 256.4 660 258 C664.5 259.6 668.7 262.5 672 265 C675.3 267.5 678.2 269.4 680 272.9 C681.8 276.4 682.3 283.8 682.8 286" class="k"/>
<path d="M623 261.2 C622.3 262.7 619.8 266.9 619 270 C618.2 273.1 618 276.3 618.5 280 C619 283.7 620.1 288.7 622 292 C623.9 295.3 628.7 298.7 630 300" class="t"/>
<ellipse cx="653" cy="280.5" rx="18.3" ry="15.6" transform="rotate(12 653 280.5)" class="k"/>
<ellipse cx="652" cy="280" rx="22" ry="19.5" transform="rotate(12 652 280)" class="t"/>
<path d="M677 288.9 L688.6 285.3 L700.3 293.3 L707.6 305 L706 316.6 L696 334 L682.8 340 L668.2 335.5 L659.5 328.2 L650.8 323.9 L660 305 Z" class="w"/>
<path d="M677 288.9 C678.9 288.3 684.7 284.6 688.6 285.3 C692.5 286 697.1 290 700.3 293.3 C703.5 296.6 706.6 301.1 707.6 305 C708.6 308.9 707.9 311.8 706 316.6 C704.1 321.4 699.9 330.1 696 334 C692.1 337.9 687.4 339.8 682.8 340 C678.2 340.2 672.1 337.5 668.2 335.5 C664.3 333.5 662.4 330.1 659.5 328.2 C656.6 326.3 652.2 324.6 650.8 323.9" class="k"/>
<ellipse cx="690.1" cy="303.5" rx="8" ry="7" transform="rotate(30 690.1 303.5)" class="k" style="fill:#a8a8a8"/>
<line x1="683.7" y1="298.2" x2="696.5" y2="298.2" class="t" transform="rotate(30 690.1 303.5)"/>
<line x1="683.7" y1="300" x2="696.5" y2="300" class="t" transform="rotate(30 690.1 303.5)"/>
<line x1="683.7" y1="301.8" x2="696.5" y2="301.8" class="t" transform="rotate(30 690.1 303.5)"/>
<line x1="683.7" y1="303.5" x2="696.5" y2="303.5" class="t" transform="rotate(30 690.1 303.5)"/>
<line x1="683.7" y1="305.2" x2="696.5" y2="305.2" class="t" transform="rotate(30 690.1 303.5)"/>
<line x1="683.7" y1="307" x2="696.5" y2="307" class="t" transform="rotate(30 690.1 303.5)"/>
<line x1="683.7" y1="308.8" x2="696.5" y2="308.8" class="t" transform="rotate(30 690.1 303.5)"/>
<ellipse cx="691" cy="304" rx="11.5" ry="10" transform="rotate(30 691 304)" class="t"/>
<path d="M665 301 L672 296 L680 290" class="t"/>
<path d="M604 254 C605.7 255.7 612.1 260 614.3 264.1 C616.5 268.2 615 273.4 617.2 278.7 C619.4 284 625.2 291.3 627.4 296.2 C629.6 301.1 629.4 301.5 630.4 307.8 C631.4 314.1 632.8 329.6 633.3 334" class="k"/>
<path d="M589.6 312.2 L627.4 299" class="t"/>
<path d="M589.6 314.5 L627.4 301.5" class="t"/>
<path d="M589.6 312.2 L592.5 342.8" class="t"/>
<path d="M594 344.3 L645 325.3" class="t"/>
<path d="M594 346.5 L645 327.5" class="t"/>
<path d="M707.4 229.7 C707.4 231.2 705 233.9 707.4 238.5 C709.8 243.1 718.1 250.6 722 257.4 C725.9 264.2 728.3 270.5 730.7 279.3 C733.1 288.1 735.4 300.8 736.5 310 C737.6 319.2 738.6 325.3 737.4 334.3 C736.2 343.3 733.8 355.2 729.4 364 C725 372.8 717.9 381.3 711 387 C704.1 392.7 697.9 393.8 688 398.4 C678.1 403 663.4 409.1 651.6 414.5 C639.8 419.9 627.5 426.3 617.2 430.5 C606.9 434.7 595.9 436.6 589.8 439.6 C583.7 442.7 582.1 447.3 580.6 448.8" class="k"/>
<path d="M679.8 245 C682 247.9 689 256 693 262.6 C697 269.2 701.2 276.2 704 284.6 C706.8 293 708.4 303.3 709.5 313.2 C710.6 323.1 711.1 334.5 710.5 344 C709.9 353.5 707.9 362.9 706 370.4 C704.1 377.9 700.2 385.9 699 389" class="t"/>
<path d="M677.5 247 C679.7 249.9 686.8 258 690.8 264.5 C694.8 271 699 277.8 701.8 286 C704.5 294.2 706.2 304.3 707.3 314 C708.4 323.7 708.9 334.8 708.3 344 C707.7 353.2 705.7 362.2 703.8 369.5 C701.9 376.8 698.1 384.9 697 388" class="t"/>
<path d="M705.5 241 C707.8 243.9 715.7 252.1 719.5 258.5 C723.3 264.9 725.9 270.9 728.3 279.5 C730.7 288.1 732.9 300.9 734 310 C735.1 319.1 736.2 325.2 735 334 C733.8 342.8 731.2 354.1 727 362.5 C722.8 370.9 716.2 378.9 709.5 384.5 C702.8 390.1 690.8 394.1 687 396" class="t"/>
<path d="M712 238 C713.7 242 719.3 253.3 722 262 C724.7 270.7 727 285.3 728 290" class="t"/>
<path d="M632.4 334.4 C632.1 338.7 631.4 350.4 630.8 360 C630.2 369.6 630.6 383.2 629 392 C627.4 400.8 624.6 405.9 621.2 412.8 C617.8 419.7 610.5 430.1 608.4 433.6" class="m"/>
<path d="M603.6 347.2 C604.1 352 607.1 366.4 606.8 376 C606.5 385.6 603.9 396.3 602 404.8 C600.1 413.3 596.7 423.5 595.6 427.2" class="t"/>
<path d="M661 363.2 C660.2 367.3 658.1 380.5 656 388 C653.9 395.5 649.6 404.7 648.3 408" class="t"/>
<path d="M582 230 L600 238 L612 246" class="t"/>
<path d="M596 262 L610 270 L625 275 L630 300" class="t"/>
<path d="M590 275 L606 282 L622 288" class="t"/>
<path d="M695 398.4 L697.4 428" class="k"/>
<path d="M619.5 431.6 L667.6 455.7 L683.6 458" class="k"/>
<path d="M651.2 421.2 L651.2 438.7" class="t"/>
<path d="M651.2 421.2 L655 415 L676.2 420" class="t"/>
<path d="M636.2 422.5 L651.2 431.2" class="t"/>
<path d="M655 415 L668 410 L684 405" class="t"/>
<path d="M668 410 L669 430 L668 452" class="t"/>
<ellipse cx="661.8" cy="427.5" rx="4.4" ry="6.2" transform="rotate(0 661.8 427.5)" class="t"/>
<path d="M677.4 423.7 L666 420 L668 456 L690.5 459.4 Z" class="w"/>
<line x1="666" y1="420" x2="677.4" y2="423.7" class="t"/>
<ellipse cx="690.5" cy="442.4" rx="13" ry="17" transform="rotate(15 690.5 442.4)" class="k"/>
<ellipse cx="690.3" cy="442.5" rx="11" ry="14.8" transform="rotate(15 690.3 442.5)" class="t"/>
<ellipse cx="691.5" cy="443" rx="8" ry="10.6" transform="rotate(15 691.5 443)" class="k"/>
<ellipse cx="574.9" cy="489.9" rx="11.6" ry="16.6" transform="rotate(12 574.9 489.9)" class="k"/>
<ellipse cx="575" cy="490.5" rx="6.5" ry="11" transform="rotate(12 575 490.5)" class="t"/>
<path d="M586.5 483.2 C586.1 480.2 584.8 470.8 584 465 C583.2 459.2 580.8 452.5 581.5 448.3 C582.2 444.1 585 441.9 588 440 C591 438.1 597.8 437.2 599.8 436.6" class="k"/>
<path d="M463.3 440 C463.2 441.9 461.9 448.8 462.5 451.6 C463.1 454.4 457 451.7 466.6 456.6 C476.2 461.5 503.4 473.2 520 481 C536.6 488.8 558.8 499.5 566.5 503.2" class="k"/>
<line x1="529" y1="462" x2="530" y2="483.6" class="t"/>
<line x1="537.2" y1="459" x2="538.2" y2="487.2" class="t"/>
<line x1="545.4" y1="456" x2="546.4" y2="490.9" class="t"/>
<line x1="553.6" y1="453" x2="554.6" y2="494.6" class="t"/>
<line x1="561.8" y1="450" x2="562.8" y2="498.2" class="t"/>
<path d="M470 447 L500 459 L530 466" class="t"/>
<path d="M521.6 428.3 C523.8 429.6 530.3 433.2 535 436 C539.7 438.8 547.4 443.5 549.9 445" class="t"/>
<path d="M483.2 261.4 C479.7 262.1 469.3 263 462.4 265.6 C455.5 268.2 447.2 272 441.6 277 C436.1 282 432 288.9 429.1 295.8 C426.2 302.8 425.2 311.1 424 318.7 C422.8 326.3 422.3 335.6 421.9 341.6 C421.5 347.7 421.6 352.8 421.5 355" class="k"/>
<path d="M482.8 267.4 C479 268.2 467 269.1 460 272 C453 274.9 445.9 280.9 441 285 C436.1 289.1 433.1 292.3 430.8 296.5 C428.5 300.7 427.9 305.1 427 310 C426.1 314.9 425.9 319.9 425.6 325.7 C425.3 331.5 425.1 341.8 425 345" class="t"/>
<path d="M476 260.5 C479.6 260.2 490.4 258.6 497.9 259 C505.4 259.4 513.8 260.2 520.8 263 C527.8 265.8 534.7 271.4 540 276 C545.3 280.6 547.8 284.1 552.8 290.5 C557.8 296.9 565.4 305.8 570.3 314.1 C575.2 322.4 579 331.6 582 340.3 C585 349 587.1 358.2 588.5 366.5 C589.9 374.8 590.6 383.8 590.5 390 C590.4 396.2 589.2 399.3 588 404 C586.8 408.7 585 413.8 583 418 C581 422.2 578.8 425.2 576 429 C573.2 432.8 569.4 437.1 566 441 C562.6 444.9 560 449.1 555.7 452.4 C551.4 455.7 544.9 458.9 540 461 C535.1 463.1 531.5 464.5 526.5 465 C521.5 465.5 514.9 464.7 510 464 C505.1 463.3 502.4 462.9 497.4 460.7 C492.4 458.5 484.9 454.8 480 451 C475.1 447.2 470 440 468 437.8" class="k"/>
<path d="M497.1 261.6 C500.8 262.2 512.6 262.7 519.4 265.5 C526.3 268.3 532.9 273.7 538.1 278.2 C543.4 282.6 545.7 286.1 550.6 292.3 C555.6 298.5 562.9 307.2 567.7 315.3 C572.4 323.4 576.1 332.4 579.1 340.9 C582.1 349.4 584.1 358.3 585.4 366.4 C586.8 374.5 587.5 383.2 587.4 389.3 C587.3 395.4 586.2 398.4 585 403 C583.7 407.5 582 412.6 580.1 416.6 C578.1 420.7 576 423.6 573.2 427.4 C570.5 431.1 566.8 435.2 563.5 439.1 C560.2 442.9 557.7 446.9 553.5 450.2 C549.2 453.4 542.9 456.5 538.1 458.6 C533.4 460.6 529.9 462 525 462.4 C520.1 462.9 511.6 461.6 508.9 461.5" class="k"/>
<path d="M498.2 261.7 L503.8 263.4 L509.3 265.5 L514.8 268.1 L520.2 271.2 L525.5 274.6 L530.7 278.5 L535.8 282.8 L540.6 287.5 L545.3 292.5 L549.8 297.9 L554 303.5 L557.9 309.5 L561.6 315.6 L565 322 L568 328.6 L570.7 335.3 L573.1 342.2 L575.1 349.1 L576.8 356.1 L578.1 363.1 L579 370.1 L579.5 377.1 L579.6 383.9 L579.3 390.7 L578.7 397.3 L577.7 403.7 L576.3 409.9 L574.5 415.8 L572.3 421.5 L569.8 426.9 L567 432 L563.8 436.7 L560.4 441 L556.6 445 L552.5 448.5 L548.2 451.6 L543.7 454.2 L539 456.4 L534 458.1 L528.9 459.4 L523.7 460.2 L518.3 460.4 L512.9 460.2 L507.4 459.5 L501.8 458.3 L496.2 456.6 L490.7 454.5 L485.2 451.9 L479.8 448.8 L474.5 445.4 L469.3 441.5 L464.2 437.2 L459.4 432.5" class="t"/>
<path d="M503.3 275 L508.2 276.9 L513.1 279.2 L517.8 281.9 L522.5 285 L527.1 288.4 L531.6 292.2 L535.9 296.3 L540 300.8 L544 305.5 L547.7 310.6 L551.1 315.8 L554.4 321.3 L557.3 326.9 L560 332.8 L562.4 338.7 L564.5 344.8 L566.2 350.9 L567.7 357.1 L568.8 363.3 L569.5 369.5 L570 375.6 L570 381.7 L569.8 387.6 L569.2 393.4 L568.2 399.1 L566.9 404.5 L565.3 409.8 L563.4 414.8 L561.1 419.5 L558.6 423.9 L555.7 428 L552.6 431.8 L549.2 435.3 L545.6 438.3 L541.8 441 L537.8 443.3 L533.5 445.1 L529.1 446.6 L524.6 447.6 L519.9 448.2 L515.2 448.3 L510.4 448.1 L505.5 447.4 L500.6 446.2 L495.7 444.7 L490.8 442.7 L485.9 440.3 L481.2 437.5 L476.5 434.3 L471.9 430.8 L467.5 426.9 L463.2 422.7 L459.1 418.2" class="t"/>
<path d="M514.9 299.1 L518.6 301.6 L522.2 304.3 L525.7 307.4 L529 310.7 L532.2 314.3 L535.3 318.1 L538.2 322.1 L540.9 326.2 L543.4 330.6 L545.6 335.1 L547.7 339.7 L549.5 344.4 L551.1 349.2 L552.4 354 L553.5 358.9 L554.3 363.8 L554.8 368.6 L555.1 373.4 L555.1 378.2 L554.8 382.8 L554.3 387.4 L553.4 391.8 L552.4 396 L551 400.1 L549.5 404 L547.6 407.7 L545.6 411.1 L543.3 414.3 L540.8 417.2 L538.1 419.8 L535.2 422.2 L532.1 424.2 L528.9 425.9 L525.6 427.3 L522.1 428.4 L518.5 429.1 L514.8 429.5 L511 429.5 L507.2 429.2 L503.4 428.6 L499.5 427.6 L495.7 426.3 L491.8 424.6 L488 422.7 L484.3 420.4 L480.6 417.9 L477 415 L473.6 411.9 L470.3 408.5 L467.1 404.9 L464.1 401.1" class="t"/>
<path d="M516.8 310.2 L519.8 312.7 L522.8 315.4 L525.7 318.3 L528.4 321.4 L531 324.7 L533.5 328.2 L535.7 331.8 L537.8 335.6 L539.7 339.5 L541.5 343.5 L543 347.5 L544.3 351.7 L545.4 355.9 L546.2 360.1 L546.9 364.3 L547.3 368.4 L547.5 372.6 L547.4 376.6 L547.1 380.6 L546.6 384.5 L545.8 388.3 L544.8 391.9 L543.6 395.4 L542.2 398.7 L540.6 401.8 L538.8 404.7 L536.8 407.4 L534.6 409.8 L532.2 412 L529.7 414 L527 415.7 L524.2 417.1 L521.3 418.2 L518.3 419 L515.1 419.6 L512 419.8 L508.7 419.8 L505.4 419.5 L502.1 418.9 L498.8 417.9 L495.4 416.7 L492.1 415.3 L488.9 413.5 L485.7 411.5 L482.5 409.2 L479.5 406.7 L476.5 404 L473.7 401 L471 397.9 L468.4 394.5 L466 391" class="t"/>
<path d="M477.4 286.2 C473.9 286.4 462.7 285.6 456.6 287.3 C450.5 289 444.5 293.3 441 296.6 C437.5 299.9 436.7 305.3 435.8 307" class="t"/>
<path d="M477.4 288.3 C474 288.5 462.9 287.8 457 289.5 C451.1 291.2 445.3 295.4 442 298.6 C438.7 301.9 437.8 307.3 437 309" class="t"/>
<path d="M470.1 300 L469.5 298.4 L468.9 296.7 L468.5 295 L468.1 293.3 L467.8 291.5 L467.6 289.7 L467.5 287.9 L467.5 286.1 L467.6 284.3 L467.8 282.5 L468.1 280.7 L468.5 279 L468.9 277.3 L469.5 275.6 L470.1 274 L470.8 272.5 L471.6 271 L472.5 269.6 L473.5 268.3 L474.5 267.1 L475.5 266 L476.7 265 L477.8 264 L479.1 263.2 L480.3 262.6" class="t"/>
<path d="M470 318 C473.3 317 484.2 312.8 490 312 C495.8 311.2 500 312 505 313 C510 314 517.5 317.2 520 318" class="t"/>
<path d="M436 330 C437.5 331 443 332.7 445 336 C447 339.3 447.5 347.7 448 350" class="t"/>
<ellipse cx="489" cy="366.3" rx="40.5" ry="60.5" transform="rotate(-22 489 366.3)" class="k"/>
<ellipse cx="489" cy="366.3" rx="39.2" ry="58.5" transform="rotate(-22 489 366.3)" class="t"/>
<ellipse cx="486.2" cy="367.7" rx="35.7" ry="53.3" transform="rotate(-22 486.2 367.7)" class="k"/>
<ellipse cx="486.2" cy="367.7" rx="34.5" ry="51.5" transform="rotate(-22 486.2 367.7)" class="t"/>
<ellipse cx="477.8" cy="372.6" rx="23.5" ry="35" transform="rotate(-22 477.8 372.6)" class="t"/>
<ellipse cx="479.1" cy="372" rx="24.5" ry="36.5" transform="rotate(-22 479.1 372)" class="t"/>
<ellipse cx="480.4" cy="371.5" rx="25.5" ry="38" transform="rotate(-22 480.4 371.5)" class="t"/>
<ellipse cx="481.7" cy="371" rx="26.5" ry="39.5" transform="rotate(-22 481.7 371)" class="t"/>
<ellipse cx="483" cy="370.5" rx="27.5" ry="41" transform="rotate(-22 483 370.5)" class="t"/>
<ellipse cx="484.3" cy="369.9" rx="28.5" ry="42.5" transform="rotate(-22 484.3 369.9)" class="t"/>
<ellipse cx="485.6" cy="369.4" rx="29.5" ry="44" transform="rotate(-22 485.6 369.4)" class="t"/>
<ellipse cx="486.9" cy="368.9" rx="30.5" ry="45.5" transform="rotate(-22 486.9 368.9)" class="t"/>
<ellipse cx="492" cy="286.4" rx="11" ry="13" transform="rotate(-15 492 286.4)" class="t"/>
<path d="M498 288.7 L492.9 295.1 L485.9 292.8 L484 284.1 L489.1 277.7 L496.1 280 Z" class="t"/>
<ellipse cx="491" cy="286.4" rx="5.2" ry="6.8" transform="rotate(-15 491 286.4)" class="k"/>
<ellipse cx="491" cy="286.4" rx="3.5" ry="4.8" transform="rotate(-15 491 286.4)" class="t"/>
<ellipse cx="432.2" cy="321.8" rx="11" ry="13" transform="rotate(-15 432.2 321.8)" class="t"/>
<path d="M438.2 324.1 L433.1 330.5 L426.1 328.2 L424.2 319.5 L429.3 313.1 L436.3 315.4 Z" class="t"/>
<ellipse cx="431.2" cy="321.8" rx="5.2" ry="6.8" transform="rotate(-15 431.2 321.8)" class="k"/>
<ellipse cx="431.2" cy="321.8" rx="3.5" ry="4.8" transform="rotate(-15 431.2 321.8)" class="t"/>
<ellipse cx="552.4" cy="362.2" rx="11" ry="13" transform="rotate(-15 552.4 362.2)" class="t"/>
<path d="M558.4 364.5 L553.3 370.9 L546.3 368.6 L544.4 359.9 L549.5 353.5 L556.5 355.8 Z" class="t"/>
<ellipse cx="551.4" cy="362.2" rx="5.2" ry="6.8" transform="rotate(-15 551.4 362.2)" class="k"/>
<ellipse cx="551.4" cy="362.2" rx="3.5" ry="4.8" transform="rotate(-15 551.4 362.2)" class="t"/>
<ellipse cx="528" cy="440.4" rx="11" ry="13" transform="rotate(-15 528 440.4)" class="t"/>
<path d="M534 442.7 L528.9 449.1 L521.9 446.8 L520 438.1 L525.1 431.7 L532.1 434 Z" class="t"/>
<ellipse cx="527" cy="440.4" rx="5.2" ry="6.8" transform="rotate(-15 527 440.4)" class="k"/>
<ellipse cx="527" cy="440.4" rx="3.5" ry="4.8" transform="rotate(-15 527 440.4)" class="t"/>
<ellipse cx="459" cy="422.7" rx="11" ry="13" transform="rotate(-15 459 422.7)" class="t"/>
<path d="M465 425 L459.9 431.4 L452.9 429.1 L451 420.4 L456.1 414 L463.1 416.3 Z" class="t"/>
<ellipse cx="458" cy="422.7" rx="5.2" ry="6.8" transform="rotate(-15 458 422.7)" class="k"/>
<ellipse cx="458" cy="422.7" rx="3.5" ry="4.8" transform="rotate(-15 458 422.7)" class="t"/>
<path d="M430.1 355.8 L467.2 340.8 L492.2 402.8 L455.1 417.8 Z" class="w"/>
<ellipse cx="479.7" cy="371.8" rx="22.4" ry="33.4" transform="rotate(-22 479.7 371.8)" class="w"/>
<ellipse cx="442.6" cy="386.8" rx="22.7" ry="33.9" transform="rotate(-22 442.6 386.8)" class="w"/>
<line x1="430.1" y1="355.8" x2="467.2" y2="340.8" class="k"/>
<line x1="455.1" y1="417.8" x2="492.2" y2="402.8" class="k"/>
<path d="M438.5 352.8 L440.2 352.9 L441.9 353.1 L443.7 353.6 L445.5 354.1 L447.2 354.8 L449 355.7 L450.7 356.8 L452.4 357.9 L454.1 359.3 L455.7 360.7 L457.3 362.3 L458.8 364 L460.2 365.8 L461.6 367.7 L462.9 369.7 L464.1 371.8 L465.2 373.9 L466.2 376.1 L467.1 378.4 L467.9 380.7 L468.6 383 L469.2 385.3 L469.6 387.7 L469.9 390 L470.1 392.3 L470.2 394.5 L470.1 396.8 L470 398.9 L469.7 401 L469.2 403.1 L468.7 405 L468 406.8 L467.2 408.6 L466.4 410.2 L465.4 411.7 L464.3 413 L463.1 414.2 L461.8 415.3 L460.4 416.3 L459 417 L457.5 417.6 L455.9 418.1 L454.3 418.4" class="t"/>
<path d="M441.2 351.3 L442.9 351.4 L444.7 351.6 L446.5 352.1 L448.2 352.6 L450 353.4 L451.8 354.3 L453.6 355.3 L455.3 356.5 L457 357.8 L458.6 359.3 L460.2 360.9 L461.7 362.6 L463.2 364.4 L464.6 366.4 L465.9 368.4 L467.1 370.5 L468.2 372.7 L469.3 374.9 L470.2 377.2 L471 379.5 L471.7 381.8 L472.2 384.2 L472.7 386.6 L473 388.9 L473.2 391.2 L473.3 393.5 L473.2 395.8 L473 398 L472.7 400.1 L472.3 402.1 L471.7 404.1 L471.1 406 L470.3 407.7 L469.4 409.3 L468.4 410.8 L467.3 412.2 L466.1 413.5 L464.8 414.6 L463.4 415.5 L461.9 416.3 L460.4 416.9 L458.8 417.4 L457.2 417.7" class="t"/>
<path d="M444 350.2 L445.7 350.3 L447.5 350.5 L449.2 350.9 L451 351.5 L452.8 352.2 L454.6 353.1 L456.3 354.2 L458.1 355.4 L459.7 356.7 L461.4 358.2 L463 359.8 L464.5 361.5 L466 363.3 L467.4 365.2 L468.7 367.3 L469.9 369.4 L471 371.5 L472 373.8 L472.9 376.1 L473.7 378.4 L474.4 380.7 L475 383.1 L475.5 385.4 L475.8 387.8 L476 390.1 L476 392.4 L476 394.7 L475.8 396.8 L475.5 399 L475.1 401 L474.5 403 L473.8 404.8 L473.1 406.6 L472.2 408.2 L471.2 409.7 L470.1 411.1 L468.8 412.3 L467.6 413.4 L466.2 414.4 L464.7 415.2 L463.2 415.8 L461.6 416.2 L460 416.5" class="t"/>
<ellipse cx="442.6" cy="386.8" rx="22.4" ry="33.4" transform="rotate(-22 442.6 386.8)" class="k"/>
<ellipse cx="443.1" cy="386.8" rx="20.8" ry="31" transform="rotate(-22 443.1 386.8)" class="t"/>
<ellipse cx="444.1" cy="386.8" rx="19.1" ry="28.5" transform="rotate(-22 444.1 386.8)" class="k"/>
<g clip-path="url(#sb)">
<ellipse cx="470.1" cy="376.3" rx="19.1" ry="28.5" transform="rotate(-22 470.1 376.3)" class="k"/>
<ellipse cx="473.8" cy="374.8" rx="19.1" ry="28.5" transform="rotate(-22 473.8 374.8)" class="t"/>
<ellipse cx="477.5" cy="373.3" rx="18.8" ry="28" transform="rotate(-22 477.5 373.3)" class="t"/>
</g>
<line x1="570" y1="700" x2="666" y2="661" class="a"/>
<line x1="219" y1="481" x2="309" y2="446.5" class="a"/>
<line x1="378.6" y1="417.3" x2="446.8" y2="390.5" class="a"/>
</svg>
</body></html>
